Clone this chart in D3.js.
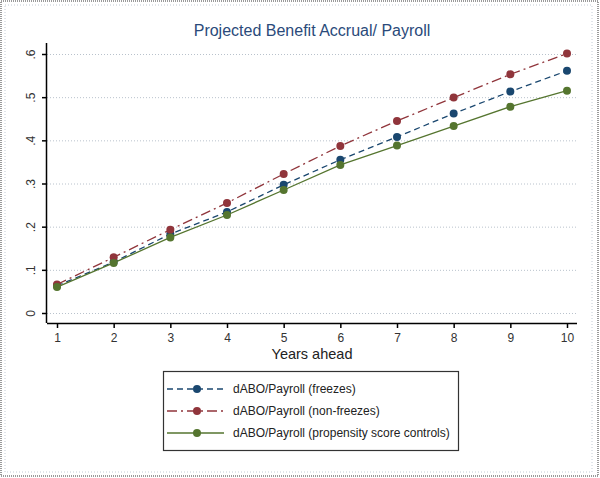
<!DOCTYPE html>
<html>
<head>
<meta charset="utf-8">
<script src="https://cdn.jsdelivr.net/npm/d3@7"></script>
<style>
  body { margin: 0; background: #fff; }
  svg { display: block; font-family: "Liberation Sans", Arial, sans-serif; }
</style>
</head>
<body>
<svg id="chart" width="600" height="478"></svg>
<script>
// Données
const years = [1, 2, 3, 4, 5, 6, 7, 8, 9, 10];
const freezes = [0.063, 0.118, 0.183, 0.234, 0.297, 0.355, 0.408, 0.462, 0.513, 0.561];
const nonFreezes = [0.066, 0.129, 0.193, 0.255, 0.322, 0.387, 0.445, 0.499, 0.553, 0.601];
const propensity = [0.060, 0.116, 0.175, 0.227, 0.285, 0.343, 0.388, 0.433, 0.478, 0.515];
const yTicks = [0, 0.1, 0.2, 0.3, 0.4, 0.5, 0.6];
const seriesNames = [
  "dABO/Payroll (freezes)",
  "dABO/Payroll (non-freezes)",
  "dABO/Payroll (propensity score controls)"
];

const svg = d3.select("#chart");

// Cadre extérieur
svg.append("rect")
  .attr("x", 1).attr("y", 1).attr("width", 597).attr("height", 475)
  .style("fill", "none").style("stroke", "#9a9a9a")
  .style("stroke-width", 2).style("stroke-dasharray", "1,1");
svg.append("rect")
  .attr("x", 5).attr("y", 5).attr("width", 587).attr("height", 467)
  .style("fill", "none").style("stroke", "#c4ccd6")
  .style("stroke-dasharray", "1,2");

// Échelles
const x = d3.scaleLinear().domain([1, 10]).range([57, 567]);
const y = d3.scaleLinear().domain([0, 0.6]).range([313, 54]);
const axisLeftX = 47, axisBottomY = 323, plotRight = 577;

// Grillage
svg.append("g")
  .attr("transform", `translate(${axisLeftX},0)`)
  .call(d3.axisLeft(y).tickValues(yTicks).tickSize(-(plotRight - axisLeftX)).tickFormat(""))
  .call(g => g.select(".domain").remove())
  .selectAll("line")
  .style("stroke", "#b9c2cc")
  .style("stroke-dasharray", "1,2");

// Axe y
const yAxis = svg.append("g")
  .attr("transform", `translate(${axisLeftX},0)`)
  .call(d3.axisLeft(y).tickValues(yTicks).tickSize(5).tickPadding(8)
    .tickFormat(d => d === 0 ? "0" : d3.format(".1f")(d).replace(/^0/, "")));
yAxis.select(".domain")
  .attr("d", `M-0.5,43V${axisBottomY}`)
  .style("stroke", "#000").style("stroke-width", 1.5);
yAxis.selectAll(".tick line").style("stroke", "#000").style("stroke-width", 1.5);
yAxis.selectAll("text")
  .attr("transform", "rotate(-90)")
  .attr("x", 0).attr("y", -12)
  .attr("dy", "0")
  .style("text-anchor", "middle")
  .style("font-size", "12px")
  .style("fill", "#333");

// Axe x
const xAxis = svg.append("g")
  .attr("transform", `translate(0,${axisBottomY})`)
  .call(d3.axisBottom(x).tickValues(years).tickSize(5).tickPadding(5).tickFormat(d3.format("d")));
xAxis.select(".domain")
  .attr("d", `M${axisLeftX},0.5H${plotRight}`)
  .style("stroke", "#000").style("stroke-width", 1.5);
xAxis.selectAll(".tick line").style("stroke", "#000").style("stroke-width", 1.5);
xAxis.selectAll("text")
  .style("font-size", "12px")
  .style("fill", "#333");

// Titres
svg.append("text")
  .attr("x", 312).attr("y", 36)
  .attr("text-anchor", "middle")
  .style("font-size", "16px")
  .style("fill", "#2a4a7a")
  .text("Projected Benefit Accrual/ Payroll");

svg.append("text")
  .attr("x", 312).attr("y", 359)
  .attr("text-anchor", "middle")
  .style("font-size", "14.5px")
  .style("fill", "#222")
  .text("Years ahead");

// Séries
const series = [
  { name: seriesNames[0], values: freezes, color: "#1a476f", dash: "6,4" },
  { name: seriesNames[1], values: nonFreezes, color: "#90353b", dash: "10,4,2,4" },
  { name: seriesNames[2], values: propensity, color: "#55752f", dash: null }
];

const line = d3.line()
  .x((d, i) => x(years[i]))
  .y(d => y(d));

series.forEach(s => {
  svg.append("path")
    .datum(s.values)
    .attr("d", line)
    .style("fill", "none")
    .style("stroke", s.color)
    .style("stroke-width", 1.3)
    .style("stroke-dasharray", s.dash);
  svg.selectAll(null)
    .data(s.values)
    .join("circle")
    .attr("cx", (d, i) => x(years[i]))
    .attr("cy", d => y(d))
    .attr("r", 4)
    .style("fill", s.color);
});

// Légende
const legend = svg.append("g");
legend.append("rect")
  .attr("x", 163.5).attr("y", 371.5).attr("width", 295).attr("height", 79)
  .style("fill", "#fff").style("stroke", "#333").style("stroke-width", 1.2);

series.forEach((s, i) => {
  const ly = 389 + i * 22;
  legend.append("line")
    .attr("x1", 167).attr("x2", 224).attr("y1", ly).attr("y2", ly)
    .style("stroke", s.color).style("stroke-width", 1.3)
    .style("stroke-dasharray", s.dash);
  legend.append("circle")
    .attr("cx", 197).attr("cy", ly).attr("r", 4)
    .style("fill", s.color);
  legend.append("text")
    .attr("x", 233).attr("y", ly + 4)
    .style("font-size", "12px")
    .style("fill", "#222")
    .text(s.name);
});
</script>
</body>
</html>
